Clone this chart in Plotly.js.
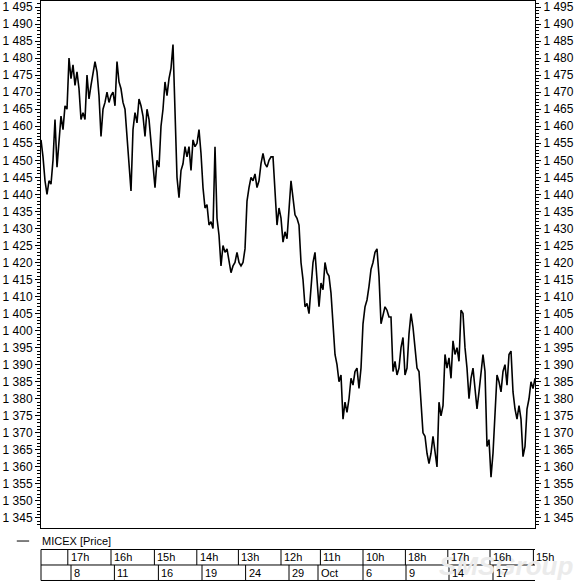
<!DOCTYPE html>
<html>
<head>
<meta charset="utf-8">
<script src="https://cdn.plot.ly/plotly-3.0.1.min.js"></script>
<style>html,body{margin:0;padding:0;background:#fff;}#chart{width:582px;height:582px;}</style>
</head>
<body>
<div id="chart"></div>
<script>
// MICEX price, evenly spaced bars
const seriesName = 'MICEX [Price]';
const price = [
1456,1451,1444,1440,1444,1443,1450,1462,1448,1456,1463,1459,1466,1465,1480,1474,1478,1472,1476,1471,
1462,1464,1462,1475,1468,1472,1476,1479,1476,1469,1457,1465,1467,1470,1467,1469,1470,1466,1479,1473,
1471,1467,1465,1456,1449,1441,1459,1464,1461,1468,1466,1463,1457,1465,1462,1455,1450,1442,1450,1448,
1460,1465,1473,1469,1474,1477,1484,1460,1445,1439,1447,1449,1454,1451,1454,1447,1456,1454,1455,1459,
1452,1442,1436,1437,1431,1432,1430,1454,1433,1428,1419,1425,1423,1424,1421,1417,1419,1420,1423,1420,
1419,1420,1424,1438,1442,1445,1444,1446,1442,1444,1449,1452,1449,1448,1450,1451,1451,1440,1431,1436,
1433,1426,1429,1427,1437,1444,1439,1434,1433,1431,1420,1415,1407,1408,1405,1414,1420,1423,1415,1407,
1414,1412,1420,1417,1416,1411,1402,1393,1390,1385,1387,1374,1379,1376,1380,1386,1384,1388,1389,1383,
1389,1402,1407,1409,1413,1418,1420,1423,1424,1416,1402,1405,1407,1406,1404,1404,1388,1391,1387,1389,
1395,1398,1387,1389,1399,1405,1401,1395,1389,1388,1380,1370,1369,1364,1361,1364,1369,1365,1360,1379,
1375,1378,1393,1389,1392,1386,1397,1393,1395,1391,1406,1405,1395,1389,1380,1386,1389,1383,1377,1382,
1387,1393,1388,1366,1368,1357,1364,1375,1387,1385,1382,1388,1390,1384,1393,1394,1382,1377,1374,1378,
1374,1363,1366,1377,1380,1385,1383,1386
];
const barIndex = price.map((_, i) => i);

// time scale table below the chart
const hourLabels = ['17h','16h','15h','14h','13h','12h','11h','10h','18h','17h','16h','15h'];
const hourBars   = [13.4, 35, 56.7, 77.9, 98.7, 120, 139.7, 161, 182.2, 203.4, 224.5, 246.2];
const dateLabels = ['8','11','16','19','24','29','Oct','6','9','14','17'];
const dateBars   = [15, 36.7, 58.7, 80.5, 102.3, 124, 138.5, 161, 182.5, 204, 226];

const yMin = 1342.06, yMax = 1496.77;

const rowTop = -0.0408, rowMid = -0.0702, rowBot = -0.0996;
const row1Y = -0.0555, row2Y = -0.0850, legendY = -0.0247;

const shapes = [];
[rowTop, rowMid, rowBot].forEach(yy => shapes.push({type:'line', xref:'paper', yref:'paper', x0:0, x1:1, y0:yy, y1:yy, line:{color:'#000', width:1}}));
shapes.push({type:'line', xref:'paper', yref:'paper', x0:0, x1:0, y0:rowTop, y1:rowBot, line:{color:'#000', width:1}});
hourBars.forEach(b => shapes.push({type:'line', xref:'x', yref:'paper', x0:b, x1:b, y0:rowTop, y1:rowMid, line:{color:'#000', width:1}}));
dateBars.forEach(b => shapes.push({type:'line', xref:'x', yref:'paper', x0:b, x1:b, y0:rowMid, y1:rowBot, line:{color:'#000', width:1}}));
// legend dash
shapes.push({type:'line', xref:'paper', yref:'paper', x0:-0.049, x1:-0.024, y0:legendY, y1:legendY, line:{color:'#000', width:1}});

const font = 'Liberation Sans, Arial, sans-serif';
const annotations = [];
annotations.push({xref:'paper', yref:'paper', x:1.08, y:-0.072, xanchor:'right', yanchor:'middle', text:'<b><i>SMSGroup</i></b>', showarrow:false, font:{family:font, size:26, color:'#ebebeb'}});
annotations.push({xref:'paper', yref:'paper', x:-0.003, y:legendY, xanchor:'left', yanchor:'middle', text:seriesName, showarrow:false, font:{family:font, size:11, color:'#000'}});
hourLabels.forEach((t, k) => annotations.push({xref:'x', yref:'paper', x:hourBars[k], y:row1Y, xanchor:'left', yanchor:'middle', xshift:1, text:t, showarrow:false, font:{family:font, size:11, color:'#000'}}));
dateLabels.forEach((t, k) => annotations.push({xref:'x', yref:'paper', x:dateBars[k], y:row2Y, xanchor:'left', yanchor:'middle', xshift:1, text:t, showarrow:false, font:{family:font, size:11, color:'#000'}}));

const yAxisBase = {
  range:[yMin, yMax], tickmode:'linear', tick0:1345, dtick:5,
  ticks:'outside', ticklen:5, tickwidth:1, tickcolor:'#000',
  showline:true, linecolor:'#000', linewidth:1,
  showgrid:false, zeroline:false, tickformat:',d', separatethousands:true,
  tickfont:{family:font, size:12, color:'#000'},
  minor:{dtick:1, ticks:'outside', ticklen:3, tickwidth:1, tickcolor:'#000', showgrid:false},
  fixedrange:true
};

const traces = [
  {x: barIndex, y: price, type:'scatter', mode:'lines', name: seriesName, line:{color:'#000', width:1.6}, hoverinfo:'skip'},
  {x: [barIndex[0]], y: [price[0]], type:'scatter', mode:'markers', yaxis:'y2', marker:{opacity:0}, showlegend:false, hoverinfo:'skip'}
];

const layout = {
  width:582, height:582,
  margin:{l:41, r:47, t:1, b:54, pad:0},
  paper_bgcolor:'#fff', plot_bgcolor:'#fff',
  separators:'. ',
  showlegend:false,
  xaxis:{range:[0, price.length - 1], showline:true, mirror:true, linecolor:'#000', linewidth:1, ticks:'', showticklabels:false, showgrid:false, zeroline:false, fixedrange:true},
  yaxis: Object.assign({}, yAxisBase, {side:'left'}),
  yaxis2: Object.assign({}, yAxisBase, {side:'right', overlaying:'y'}),
  shapes: shapes,
  annotations: annotations
};

Plotly.newPlot('chart', traces, layout, {staticPlot:true, displayModeBar:false});
</script>
</body>
</html>
